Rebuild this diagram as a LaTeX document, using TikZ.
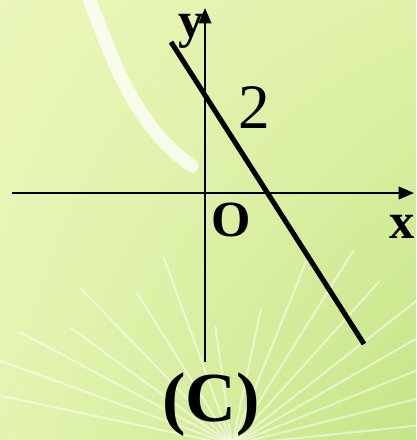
\documentclass[tikz,border=0pt]{standalone}
\usepackage{fontspec}
\setmainfont{Liberation Serif}
\usetikzlibrary{arrows.meta,shadings}
\definecolor{ink}{HTML}{000000}
\definecolor{bgtl}{HTML}{EAF6BA}
\definecolor{bgtr}{HTML}{E0F2A8}
\definecolor{bgbl}{HTML}{E4F4B0}
\definecolor{bgbr}{HTML}{C4E586}

\begin{document}
\begin{tikzpicture}[
  x=0.025cm,y=-0.025cm,
  axis/.style={draw=ink,line width=1.4pt,-{Triangle[length=11pt,width=9pt]}},
  graphline/.style={draw=ink,line width=3.6pt},
  lbl/.style={inner sep=0pt,font=\fontsize{36}{36}\selectfont\bfseries},
  numlbl/.style={inner sep=0pt,font=\fontsize{45}{45}\selectfont},
  caption/.style={inner sep=0pt,font=\fontsize{50}{50}\selectfont\bfseries},
  ray/.style={draw=white,opacity=0.5,line width=1.5pt}
]
\useasboundingbox (0,0) rectangle (416,440);
% background
\shade[upper left=bgtl,upper right=bgtr,lower left=bgbl,lower right=bgbr] (0,0) rectangle (416,440);
\draw[white,opacity=0.75,line width=9.5pt,line cap=round] (88,-5) .. controls (115,70) and (140,130) .. (192,166);
\foreach \a/\l in {192/260,200/250,208/240,216/200,226/220,238/180,250/200,262/120,
                   282/140,292/200,302/230,312/220,322/260,330/250,338/260,346/240,354/230}
  \draw[ray] (232,445) -- ++(\a:\l);

% axes
\coordinate (xs) at (12,193);
\coordinate (xe) at (414,193);
\coordinate (ys) at (205,362);
\coordinate (ye) at (205,8);
\draw[axis] (xs) -- (xe);
\draw[axis] (ys) -- (ye);

% straight line
\coordinate (ls) at (171,42);
\coordinate (le) at (364,344);
\draw[graphline] (ls) -- (le);

% labels
\node[lbl] (ylab) at (191,31) {y};
\node[lbl] (xlab) at (402,227) {x};
\node[lbl] (olab) at (231,220) {O};
\node[numlbl] (two) at (254,108) {2};
\node[caption] (cap) at (211,405) {(C)};
\end{tikzpicture}
\end{document}
